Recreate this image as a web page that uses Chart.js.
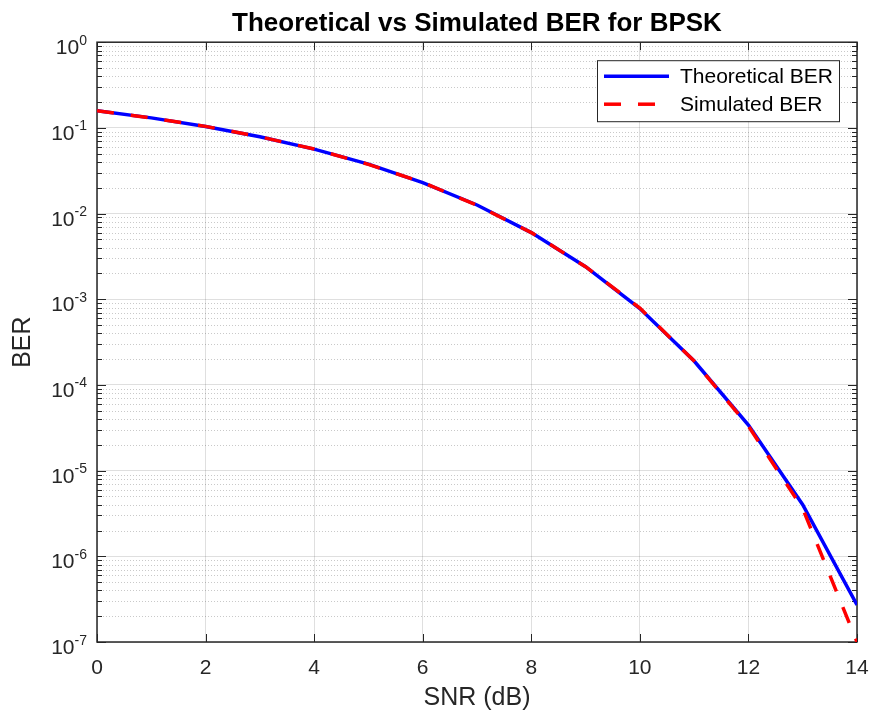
<!DOCTYPE html>
<html>
<head>
<meta charset="utf-8">
<script src="https://cdn.jsdelivr.net/npm/chart.js@4.4.1/dist/chart.umd.min.js"></script>
<style>
html, body { margin: 0; padding: 0; background: #ffffff; }
#ber_chart { display: block; }
</style>
</head>
<body>
<canvas id="ber_chart" width="872" height="713"></canvas>
<script>
const snr_db = [0, 1, 2, 3, 4, 5, 6, 7, 8, 9, 10, 11, 12, 13, 14];
const theoretical_ber = [0.1587, 0.1309, 0.1040, 0.0789, 0.0565, 0.0377, 0.0230, 0.0126, 0.0060, 0.0024, 7.8e-4, 1.9e-4, 3.4e-5, 4.0e-6, 2.7e-7];
const simulated_ber = [0.1589, 0.1307, 0.1042, 0.0787, 0.0566, 0.0375, 0.0231, 0.0125, 0.0060, 0.0024, 7.9e-4, 1.9e-4, 3.3e-5, 3.6e-6, 1.0e-7];

const x_tick_values = [0, 2, 4, 6, 8, 10, 12, 14];
const y_tick_values = [1e0, 1e-1, 1e-2, 1e-3, 1e-4, 1e-5, 1e-6, 1e-7];
const y_tick_exponents = ["0", "-1", "-2", "-3", "-4", "-5", "-6", "-7"];

const axis_color = "#262626";
const font_family = "Arial, 'Liberation Sans', Helvetica, sans-serif";

// minor dotted grid, inner tick marks, box and 10^n tick labels, like a matlab axes
const matlab_axes_plugin =
{
    id: "matlab_axes",
    beforeDatasetsDraw(chart)
    {
        const { ctx, chartArea: area, scales: { x, y } } = chart;
        ctx.save();

        ctx.lineWidth = 1;
        ctx.strokeStyle = "rgba(38, 38, 38, 0.25)";
        ctx.setLineDash([1, 2]);
        for (let e = -7; e < 0; e++)
        {
            for (let k = 2; k <= 9; k++)
            {
                const py = Math.round(y.getPixelForValue(k * Math.pow(10, e))) + 0.5;
                ctx.beginPath();
                ctx.moveTo(area.left, py);
                ctx.lineTo(area.right, py);
                ctx.stroke();
            }
        }

        ctx.setLineDash([]);
        ctx.strokeStyle = axis_color;
        ctx.beginPath();
        for (let e = -7; e <= 0; e++)
        {
            for (let k = 1; k <= 9; k++)
            {
                if (e === 0 && k > 1) break;
                const len = k === 1 ? 9 : 5;
                const py = Math.round(y.getPixelForValue(k * Math.pow(10, e))) + 0.5;
                ctx.moveTo(area.left, py);
                ctx.lineTo(area.left + len, py);
                ctx.moveTo(area.right, py);
                ctx.lineTo(area.right - len, py);
            }
        }
        x.ticks.forEach(t =>
        {
            const px = Math.round(x.getPixelForValue(t.value)) + 0.5;
            ctx.moveTo(px, area.bottom);
            ctx.lineTo(px, area.bottom - 8);
            ctx.moveTo(px, area.top);
            ctx.lineTo(px, area.top + 8);
        });
        ctx.stroke();

        ctx.lineWidth = 1.5;
        ctx.strokeRect(area.left, area.top, area.right - area.left, area.bottom - area.top);

        // y tick labels with a raised exponent
        ctx.fillStyle = axis_color;
        ctx.textBaseline = "alphabetic";
        ctx.textAlign = "left";
        y_tick_values.forEach((v, i) =>
        {
            const py = y.getPixelForValue(v);
            const exp = y_tick_exponents[i];
            ctx.font = "14px " + font_family;
            const exp_w = ctx.measureText(exp).width;
            const exp_x = area.left - 10 - exp_w;
            ctx.fillText(exp, exp_x, py + 2.5);
            ctx.font = "21px " + font_family;
            const base_w = ctx.measureText("10").width;
            ctx.fillText("10", exp_x - base_w, py + 12);
        });
        ctx.restore();
    }
};

// legend box in the upper right corner of the axes
const matlab_legend_plugin =
{
    id: "matlab_legend",
    afterDatasetsDraw(chart)
    {
        const { ctx, chartArea: area } = chart;
        const box_w = 242, box_h = 61;
        const left = area.right - 18 - box_w;
        const top = area.top + 18;
        ctx.save();
        ctx.fillStyle = "#ffffff";
        ctx.fillRect(left, top, box_w, box_h);
        ctx.strokeStyle = axis_color;
        ctx.lineWidth = 1;
        ctx.strokeRect(left + 0.5, top + 0.5, box_w, box_h);

        ctx.font = "21px " + font_family;
        ctx.textBaseline = "middle";
        ctx.textAlign = "left";
        chart.data.datasets.forEach((ds, i) =>
        {
            const ly = top + 16 + i * 28;
            ctx.strokeStyle = ds.borderColor;
            ctx.lineWidth = ds.borderWidth;
            ctx.setLineDash(ds.borderDash || []);
            ctx.beginPath();
            ctx.moveTo(left + 7, ly);
            ctx.lineTo(left + 72, ly);
            ctx.stroke();
            ctx.setLineDash([]);
            ctx.fillStyle = "#000000";
            ctx.fillText(ds.label, left + 83, ly + 1);
        });
        ctx.restore();
    }
};

const ber_chart = new Chart("ber_chart",
{
    type: "line",
    data:
    {
        datasets:
        [
            {
                label: "Theoretical BER",
                data: snr_db.map((v, i) => ({ x: v, y: theoretical_ber[i] })),
                borderColor: "#0000ff",
                backgroundColor: "#0000ff",
                borderWidth: 3.5,
                pointRadius: 0,
                tension: 0,
                fill: false,
                order: 2
            },
            {
                label: "Simulated BER",
                data: snr_db.map((v, i) => ({ x: v, y: simulated_ber[i] })),
                borderColor: "#ff0000",
                backgroundColor: "#ff0000",
                borderWidth: 3.5,
                borderDash: [17, 17],
                pointRadius: 0,
                tension: 0,
                fill: false,
                order: 1
            }
        ]
    },
    options:
    {
        responsive: false,
        animation: false,
        layout:
        {
            padding: { left: 0, right: 15, top: 0, bottom: 0 }
        },
        plugins:
        {
            legend: { display: false },
            tooltip: { enabled: false },
            title:
            {
                display: true,
                fullSize: false,
                text: "Theoretical vs Simulated BER for BPSK",
                color: "#000000",
                font: { family: font_family, size: 26, weight: "bold" },
                padding: { top: 8, bottom: 3 }
            }
        },
        scales:
        {
            x:
            {
                type: "linear",
                min: 0,
                max: 14,
                afterBuildTicks: scale => { scale.ticks = x_tick_values.map(v => ({ value: v })); },
                afterFit: scale =>
                {
                    scale.height = 71;
                    scale.paddingLeft = 0;
                    scale.paddingRight = 0;
                },
                ticks:
                {
                    color: axis_color,
                    padding: 14,
                    maxRotation: 0,
                    font: { family: font_family, size: 21 }
                },
                grid:
                {
                    color: "rgba(38, 38, 38, 0.15)",
                    drawTicks: false
                },
                border: { display: false },
                title:
                {
                    display: true,
                    text: "SNR (dB)",
                    color: axis_color,
                    font: { family: font_family, size: 25 },
                    padding: { top: 0, bottom: 0 }
                }
            },
            y:
            {
                type: "logarithmic",
                min: 1e-7,
                max: 1,
                afterBuildTicks: scale => { scale.ticks = y_tick_values.map(v => ({ value: v })); },
                afterFit: scale =>
                {
                    scale.width = 97;
                    scale.paddingTop = 0;
                    scale.paddingBottom = 0;
                },
                ticks: { display: false },
                grid:
                {
                    color: "rgba(38, 38, 38, 0.15)",
                    drawTicks: false
                },
                border: { display: false },
                title:
                {
                    display: true,
                    text: "BER",
                    color: axis_color,
                    font: { family: font_family, size: 25 },
                    padding: { top: 8, bottom: 0 }
                }
            }
        }
    },
    plugins: [matlab_axes_plugin, matlab_legend_plugin]
});
</script>
</body>
</html>
